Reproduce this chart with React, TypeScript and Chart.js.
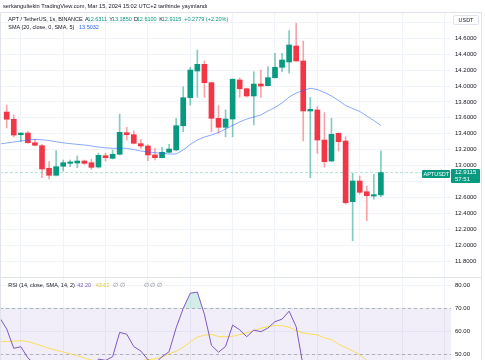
import React, { useEffect, useRef } from "react";
import { Chart, registerables } from "chart.js";

Chart.register(...registerables);

// ---------- DATA ----------
const opens = [13.673, 13.582, 13.388, 13.409, 13.287, 13.25, 12.966, 12.878, 12.991, 13.028, 13.032, 13.057, 13.036, 12.982, 13.124, 13.091, 13.142, 13.413, 13.388, 13.275, 13.246, 13.133, 13.099, 13.167, 13.196, 13.501, 13.853, 14.189, 14.273, 14.042, 13.594, 13.481, 13.585, 14.076, 13.966, 13.875, 14.025, 14.004, 14.105, 14.235, 14.302, 14.503, 14.315, 13.686, 13.699, 13.321, 13.057, 13.406, 13.309, 12.546, 12.806, 12.671, 12.617, 12.6311];
const highs = [13.761, 13.636, 13.409, 13.426, 13.33, 13.271, 13.049, 13.187, 13.07, 13.07, 13.12, 13.07, 13.079, 13.154, 13.154, 13.196, 13.648, 13.481, 13.435, 13.33, 13.265, 13.217, 13.23, 13.267, 13.594, 13.992, 14.235, 14.453, 14.315, 14.05, 13.753, 13.699, 14.09, 14.101, 13.975, 14.18, 14.201, 14.243, 14.411, 14.411, 14.696, 14.789, 14.566, 13.858, 13.74, 13.665, 13.594, 13.41, 13.363, 12.903, 12.869, 12.743, 12.89, 13.185];
const lows = [13.472, 13.359, 13.3, 13.28, 13.246, 12.847, 12.831, 12.869, 12.932, 12.986, 12.973, 13.016, 12.953, 12.969, 13.057, 13.083, 13.133, 13.321, 13.271, 13.217, 13.061, 13.07, 13.095, 13.158, 13.183, 13.426, 13.761, 13.858, 13.858, 13.426, 13.406, 13.363, 13.363, 13.858, 13.862, 13.51, 13.858, 14.0, 14.1, 14.18, 14.16, 14.31, 13.309, 12.847, 13.154, 12.978, 13.05, 13.183, 12.517, 12.055, 12.642, 12.307, 12.576, 12.61];
const closes = [13.582, 13.384, 13.409, 13.287, 13.255, 12.957, 12.878, 12.986, 13.036, 13.045, 13.057, 13.028, 12.978, 13.129, 13.099, 13.142, 13.418, 13.388, 13.28, 13.246, 13.133, 13.099, 13.167, 13.208, 13.501, 13.853, 14.201, 14.273, 14.042, 13.594, 13.481, 13.585, 14.085, 13.966, 13.875, 14.025, 14.0, 14.105, 14.235, 14.327, 14.516, 14.315, 13.686, 13.707, 13.321, 13.049, 13.393, 13.3, 12.533, 12.806, 12.664, 12.621, 12.634, 12.9115];

// SMA(20) values, first value belongs to the bar before the first visible candle
const smaValues = [13.271, 13.284, 13.296, 13.309, 13.321, 13.33, 13.325, 13.315, 13.299, 13.286, 13.276, 13.266, 13.259, 13.246, 13.233, 13.223, 13.217, 13.217, 13.217, 13.202, 13.183, 13.171, 13.162, 13.154, 13.145, 13.145, 13.196, 13.265, 13.321, 13.359, 13.384, 13.416, 13.46, 13.504, 13.548, 13.585, 13.611, 13.636, 13.686, 13.73, 13.787, 13.862, 13.912, 13.944, 13.971, 13.956, 13.919, 13.875, 13.818, 13.755, 13.717, 13.68, 13.623, 13.567, 13.503];

// RSI(14) and its SMA, same alignment as smaValues
const rsiValues = [66, 61, 52.5, 53.2, 48.3, 45.5, 38, 35.5, 41, 43.5, 44.5, 45.5, 44.5, 42.5, 47.8, 47.2, 48.8, 59.5, 58.7, 53.3, 51.3, 47.5, 46, 48.8, 51, 61.5, 70, 76.7, 77.2, 67.5, 53.8, 50.8, 53.3, 62.7, 60.6, 57.6, 60.5, 59.8, 61.4, 64.2, 65.3, 68.8, 62, 44.5, 44.8, 38.5, 33.5, 40, 37.5, 27.5, 35.5, 33, 32, 33.5, 42.2];
const rsiSmaValues = [55.4, 55.5, 55.7, 55.8, 55.5, 54.6, 53.5, 52.5, 51.6, 50.9, 50.1, 49.2, 48.3, 47.3, 46.6, 46.2, 46.0, 46.0, 46.2, 46.6, 47.1, 47.5, 47.9, 48.6, 50.1, 51.2, 53.0, 55.4, 57.4, 58.3, 58.6, 57.7, 57.6, 57.8, 58.5, 59.3, 60.3, 61.3, 62.0, 62.6, 62.4, 61.8, 60.2, 59.2, 58.8, 58.4, 57.1, 56.4, 54.3, 52.9, 51.4, 49.7, 47.2, 45.4, 43.62];
const indicatorStart = -1;

const priceTicks = [11.8, 12.0, 12.2, 12.4, 12.6, 12.8, 13.0, 13.2, 13.4, 13.6, 13.8, 14.0, 14.2, 14.4, 14.6, 14.8];
const hiddenPriceLabels = [12.8, 14.8];
const rsiTicks = [50, 60, 70, 80];
const rsiLevels = [70, 50, 30];
const timeGrid = [2, 8, 14, 20, 26, 32, 38, 44, 50, 56, 62];

const lastPrice = 12.9115;

// ---------- STYLE ----------
const GREEN = "#089981";
const RED = "#F23645";
const GREEN_WICK = "rgba(8,153,129,0.5)";
const RED_WICK = "rgba(242,54,69,0.45)";
const TEXT = "#131722";
const GRID = "#f0f3fa";
const FONT = "'Liberation Sans', Arial, sans-serif";
const X_MIN = -0.95;
const X_MAX = 62.93;
const LEG = 5.5;

Chart.defaults.font.family = FONT;

const xScale = () => ({
  type: "linear" as const,
  min: X_MIN,
  max: X_MAX,
  offset: false,
  afterBuildTicks: (s: any) => {
    s.ticks = timeGrid.map((v) => ({ value: v }));
  },
  afterFit: (s: any) => {
    s.height = 0;
    s.paddingLeft = 0;
    s.paddingRight = 0;
  },
  grid: { color: GRID, drawTicks: false, offset: false },
  border: { display: false },
  ticks: { display: false },
});

const rsiBands = {
  id: "rsiBands",
  beforeDatasetsDraw(chart: any) {
    const { ctx, chartArea, scales } = chart;
    const { left, right, top, bottom } = chartArea;
    const y = scales.y;
    const t = Math.max(top, y.getPixelForValue(70));
    const b = Math.min(bottom, y.getPixelForValue(30));
    ctx.save();
    ctx.fillStyle = "rgba(126,87,194,0.1)";
    ctx.fillRect(left, t, right - left, b - t);
    ctx.strokeStyle = "rgba(120,123,134,0.5)";
    ctx.lineWidth = 1;
    ctx.setLineDash([3, 3]);
    for (const v of rsiLevels) {
      const py = Math.round(y.getPixelForValue(v)) + 0.5;
      if (py >= top && py <= bottom) {
        ctx.beginPath();
        ctx.moveTo(left, py);
        ctx.lineTo(right, py);
        ctx.stroke();
      }
    }
    ctx.restore();
  },
};

function T(props: { x: number; y: number; size?: number; color?: string; children: React.ReactNode }) {
  const size = props.size ?? LEG;
  return (
    <span
      style={{
        position: "absolute",
        left: props.x,
        top: props.y - size * 0.59,
        fontSize: size,
        lineHeight: `${size * 1.2}px`,
        color: props.color ?? TEXT,
        whiteSpace: "nowrap",
        fontFamily: FONT,
      }}
    >
      {props.children}
    </span>
  );
}

export default function App() {
  const priceRef = useRef<HTMLCanvasElement>(null);
  const rsiRef = useRef<HTMLCanvasElement>(null);

  useEffect(() => {
    const up = closes.map((c, i) => c >= opens[i]);
    const priceChart = new Chart(priceRef.current as HTMLCanvasElement, {
      type: "bar",
      data: {
        datasets: [
          {
            type: "line",
            data: smaValues.map((v, i) => ({ x: i + indicatorStart, y: v })),
            borderColor: "rgba(41,98,255,0.55)",
            borderWidth: 1,
            pointRadius: 0,
            tension: 0,
          } as any,
          {
            type: "line",
            data: [
              { x: X_MIN, y: lastPrice },
              { x: X_MAX, y: lastPrice },
            ],
            borderColor: "rgba(8,153,129,0.3)",
            borderDash: [3, 2],
            borderWidth: 1,
            pointRadius: 0,
          } as any,
          {
            type: "bar",
            data: opens.map((o, i) => ({ x: i, y: [o, closes[i]] })),
            backgroundColor: up.map((u) => (u ? GREEN : RED)),
            barThickness: 5,
            grouped: false,
            minBarLength: 1,
          } as any,
          {
            type: "bar",
            data: lows.map((l, i) => ({ x: i, y: [l, highs[i]] })),
            backgroundColor: up.map((u) => (u ? GREEN_WICK : RED_WICK)),
            barThickness: 1,
            grouped: false,
          } as any,
        ],
      },
      options: {
        responsive: false,
        animation: false,
        events: [],
        layout: { padding: 0 },
        plugins: { legend: { display: false }, tooltip: { enabled: false } },
        scales: {
          x: xScale() as any,
          y: {
            type: "linear",
            position: "right",
            min: 11.599,
            max: 14.918,
            afterBuildTicks: (s: any) => {
              s.ticks = priceTicks.map((v) => ({ value: v }));
            },
            afterFit: (s: any) => {
              s.width = 34;
              s.paddingTop = 0;
              s.paddingBottom = 0;
            },
            grid: { color: GRID, drawTicks: false },
            border: { display: false },
            ticks: {
              padding: 4,
              color: TEXT,
              font: { size: 6, family: FONT },
              callback: (v: any) => (hiddenPriceLabels.some((h) => Math.abs(h - v) < 1e-6) ? "" : Number(v).toFixed(4)),
            },
          } as any,
        },
      },
    });

    const rsiChart = new Chart(rsiRef.current as HTMLCanvasElement, {
      type: "line",
      data: {
        datasets: [
          {
            data: rsiValues.map((v, i) => ({ x: i + indicatorStart, y: v })),
            borderColor: "#7E57C2",
            borderWidth: 1,
            pointRadius: 0,
            fill: { target: { value: 70 }, above: "rgba(8,153,129,0.18)", below: "rgba(0,0,0,0)" },
          } as any,
          {
            data: rsiSmaValues.map((v, i) => ({ x: i + indicatorStart, y: v })),
            borderColor: "rgba(253,216,53,0.8)",
            borderWidth: 1,
            pointRadius: 0,
            fill: false,
          } as any,
        ],
      },
      options: {
        responsive: false,
        animation: false,
        events: [],
        layout: { padding: 0 },
        plugins: { legend: { display: false }, tooltip: { enabled: false } },
        scales: {
          x: xScale() as any,
          y: {
            type: "linear",
            position: "right",
            min: 47.37,
            max: 83.38,
            afterBuildTicks: (s: any) => {
              s.ticks = rsiTicks.map((v) => ({ value: v }));
            },
            afterFit: (s: any) => {
              s.width = 34;
              s.paddingTop = 0;
              s.paddingBottom = 0;
            },
            grid: { color: GRID, drawTicks: false },
            border: { display: false },
            ticks: {
              padding: 4,
              color: TEXT,
              font: { size: 6, family: FONT },
              callback: (v: any) => Number(v).toFixed(2),
            },
          } as any,
        },
      },
      plugins: [rsiBands],
    });

    return () => {
      priceChart.destroy();
      rsiChart.destroy();
    };
  }, []);

  return (
    <div
      style={{
        position: "fixed",
        left: 0,
        top: 0,
        width: 485,
        height: 360,
        background: "#ffffff",
        overflow: "hidden",
        fontFamily: FONT,
      }}
    >
      <canvas ref={priceRef} width={485} height={264} style={{ position: "absolute", left: 0, top: 13, display: "block" }} />
      <canvas ref={rsiRef} width={485} height={82} style={{ position: "absolute", left: 0, top: 278, display: "block" }} />

      {/* frame & separators */}
      <div style={{ position: "absolute", left: 0, top: 12, width: 482, height: 360, border: "1px solid #e0e3eb", boxSizing: "border-box", pointerEvents: "none" }} />
      <div style={{ position: "absolute", left: 0, top: 277, width: 482, height: 1, background: "#e0e3eb" }} />

      {/* header */}
      <T x={3} y={6} size={5.7}>serkangultekin TradingView.com, Mar 15, 2024 15:02 UTC+2 tarihinde yayınlandı</T>

      {/* main legend */}
      <T x={8.3} y={19.3}>APT / TetherUS, 1s, BINANCE</T>
      <T x={85} y={19.3}>A</T>
      <T x={87.6} y={19.3} color={GREEN}>12.6311</T>
      <T x={109.3} y={19.3}>Y</T>
      <T x={111.9} y={19.3} color={GREEN}>13.1850</T>
      <T x={134} y={19.3}>D</T>
      <T x={136.8} y={19.3} color={GREEN}>12.6100</T>
      <T x={159.3} y={19.3}>K</T>
      <T x={161.8} y={19.3} color={GREEN}>12.9115</T>
      <T x={184.3} y={19.3} color={GREEN}>+0.2779 (+2.20%)</T>

      <T x={8.3} y={27}>SMA (20, close, 0, SMA, 5)</T>
      <T x={79} y={27} color="#2962FF">13.5032</T>

      {/* USDT box */}
      <div style={{ position: "absolute", left: 453, top: 15, width: 26, height: 10, border: "1px solid #e0e3eb", borderRadius: 2, background: "#fff", boxSizing: "border-box" }} />
      <T x={458.5} y={20}>USDT</T>

      {/* last price labels */}
      <div style={{ position: "absolute", left: 421.5, top: 170, width: 28, height: 7.5, background: GREEN, borderRadius: 1 }} />
      <T x={423.5} y={173.8} color="#ffffff" size={5.5}>APTUSDT</T>
      <div style={{ position: "absolute", left: 451, top: 169, width: 29, height: 14, background: GREEN, borderRadius: 1 }} />
      <T x={455} y={172.8} color="#ffffff" size={6}>12.9115</T>
      <T x={455} y={179.3} color="#ffffff" size={6}>57:51</T>

      {/* RSI legend */}
      <T x={8.3} y={285.7}>RSI (14, close, SMA, 14, 2)</T>
      <T x={77.3} y={285.7} color="#7E57C2">42.20</T>
      <T x={95.7} y={285.7} color="#E8C232">43.62</T>
      <T x={113} y={285.7} color="#787B86">∅ ∅</T>
      <T x={143.5} y={285.7} color="#787B86">∅ ∅ ∅</T>
    </div>
  );
}
